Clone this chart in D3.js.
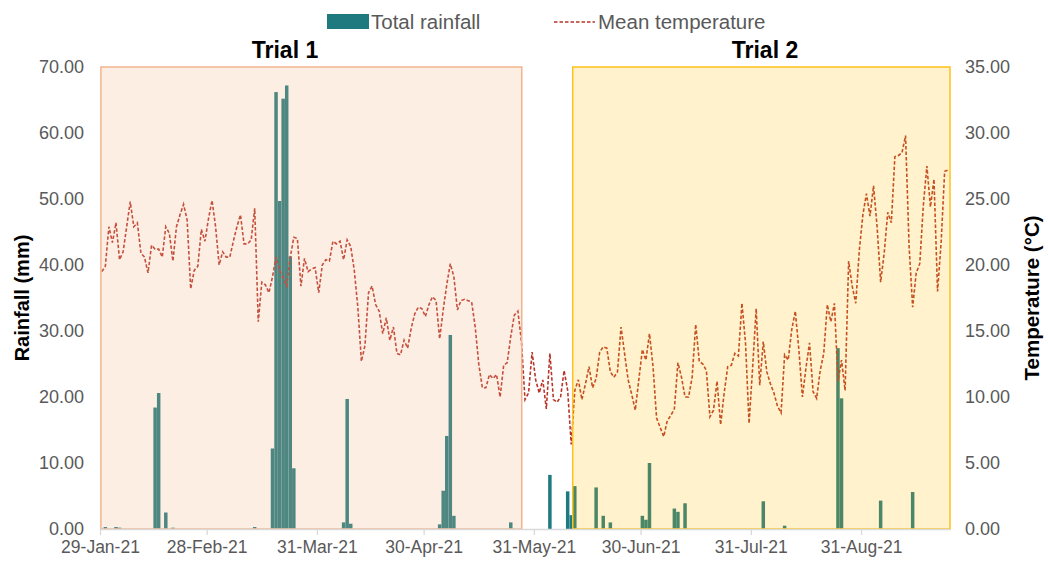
<!DOCTYPE html>
<html>
<head>
<meta charset="utf-8">
<script src="https://cdn.jsdelivr.net/npm/d3@7"></script>
<style>
  body { margin: 0; background: #fff; }
  svg { display: block; font-family: "Liberation Sans", Arial, sans-serif; }
</style>
</head>
<body>
<svg id="chart" width="1048" height="564"></svg>
<script>
// ---- data ---------------------------------------------------------------
const firstDay = "2021-01-29";          // first daily record
const axisEnd = "2021-09-25";           // end of the date axis

// daily mean temperature (°C), one value per day from firstDay
const meanTemp = [
  19.5, 19.9, 22.9, 21.7, 23.2, 20.4, 21.0, 22.9, 24.8, 22.9,
  23.2, 20.9, 20.6, 19.4, 21.5, 21.2, 21.2, 20.6, 22.9, 22.4,
  20.3, 22.9, 23.8, 24.6, 23.4, 18.2, 19.6, 19.9, 22.7, 21.8,
  23.5, 24.9, 22.9, 20.0, 21.0, 20.6, 20.6, 21.8, 22.9, 23.8,
  21.6, 21.6, 21.9, 24.3, 15.7, 18.7, 18.5, 17.9, 19.1, 20.6,
  19.6, 19.0, 18.4, 20.6, 22.1, 22.0, 18.4, 20.5, 19.5, 19.7,
  19.8, 17.9, 20.0, 20.4, 20.3, 21.8, 21.6, 21.8, 20.4, 21.9,
  21.4, 19.6, 16.8, 12.7, 13.9, 17.9, 18.4, 17.0, 16.5, 14.8,
  16.0, 14.3, 15.3, 13.3, 13.2, 14.3, 13.7, 15.2, 16.3, 16.8,
  16.7, 16.1, 17.0, 17.6, 17.3, 14.4, 16.6, 18.5, 20.1, 19.1,
  16.6, 17.3, 17.4, 17.3, 17.2, 15.3, 12.5, 10.7, 10.7, 11.7,
  11.4, 11.7, 10.0, 12.4, 12.6, 14.6, 16.2, 16.5, 14.2, 9.8,
  10.3, 13.4, 11.3, 10.3, 11.3, 9.1, 13.3, 9.8, 9.6, 10.0,
  12.0, 10.5, 6.4, 10.5, 11.3, 9.8, 11.0, 12.3, 10.7, 11.4,
  13.4, 13.8, 13.7, 11.9, 11.5, 11.9, 15.3, 13.3, 11.3, 10.2,
  9.0, 11.3, 13.6, 12.8, 14.8, 12.3, 8.4, 7.7, 7.0, 8.2,
  8.6, 9.1, 12.6, 11.5, 10.0, 10.0, 11.5, 15.5, 12.7, 12.5,
  12.0, 8.5, 9.0, 11.2, 7.9, 10.3, 12.3, 12.4, 13.3, 13.1,
  17.1, 14.1, 8.0, 12.2, 16.7, 10.9, 14.2, 11.9, 11.0, 10.3,
  9.3, 8.8, 13.2, 12.8, 15.1, 16.5, 13.6, 10.0, 12.2, 14.1,
  10.4, 9.9, 12.0, 13.3, 17.0, 15.7, 17.1, 11.2, 12.8, 10.5,
  20.3, 18.4, 17.1, 21.1, 23.8, 25.4, 23.7, 26.0, 22.9, 18.7,
  20.9, 24.0, 23.2, 28.2, 28.3, 28.5, 29.8, 21.4, 16.8, 19.4,
  20.1, 24.5, 27.5, 24.4, 26.5, 18.0, 21.7, 27.1, 27.2
];

// days with recorded rainfall
const rainDates = [
  "2021-01-30", "2021-02-02", "2021-02-03", "2021-02-13", "2021-02-14",
  "2021-02-16", "2021-02-18", "2021-03-13", "2021-03-18", "2021-03-19",
  "2021-03-20", "2021-03-21", "2021-03-22", "2021-03-23", "2021-03-24",
  "2021-04-07", "2021-04-08", "2021-04-09", "2021-05-04", "2021-05-05",
  "2021-05-06", "2021-05-07", "2021-05-08", "2021-05-24", "2021-06-04",
  "2021-06-09", "2021-06-10", "2021-06-11", "2021-06-17", "2021-06-19",
  "2021-06-21", "2021-06-30", "2021-07-01", "2021-07-02", "2021-07-09",
  "2021-07-10", "2021-07-12", "2021-08-03", "2021-08-09", "2021-08-24",
  "2021-08-25", "2021-09-05", "2021-09-14"
];
const rainMm = [
  0.3, 0.3, 0.2, 18.4, 20.6,
  2.5, 0.2, 0.3, 12.2, 66.2,
  49.7, 65.2, 67.2, 41.3, 9.2,
  1.0, 19.7, 0.8, 0.7, 5.8,
  14.1, 29.4, 2.0, 1.0, 8.2,
  5.7, 2.1, 6.5, 6.3, 2.0,
  1.0, 2.0, 1.4, 10.0, 3.1,
  2.6, 3.9, 4.2, 0.5, 27.4,
  19.8, 4.3, 5.6
];

const tickDates = [
  "2021-01-29", "2021-02-28", "2021-03-31", "2021-04-30",
  "2021-05-31", "2021-06-30", "2021-07-31", "2021-08-31"
];
const rainTicks = [0, 10, 20, 30, 40, 50, 60, 70];
const tempTicks = [0, 5, 10, 15, 20, 25, 30, 35];

const trialNames = ["Trial 1", "Trial 2"];
const trialStart = ["2021-01-29T06:00", "2021-06-10T22:00"];
const trialEnd = ["2021-05-27T14:00", "2021-09-25T00:00"];

const seriesNames = ["Total rainfall", "Mean temperature"];

// ---- layout & style -----------------------------------------------------
const plot = { left: 100, right: 950, top: 67, bottom: 529 };
const rainColor = "#1f7a80";
const tempColor = "#b8352a";
const trialFill = ["#f4b183", "#ffc000"];
const trialFillOpacity = [0.22, 0.2];
const trialStroke = ["#f2b48e", "#ffc21a"];
const textColor = "#595959";

const parseDay = d3.utcParse("%Y-%m-%d");
const parseTime = d3.utcParse("%Y-%m-%dT%H:%M");
const start = parseDay(firstDay);
const tempDays = meanTemp.map((v, i) => ({ date: d3.utcDay.offset(start, i), value: v }));
const rain = rainDates.map((d, i) => ({ date: parseDay(d), value: rainMm[i] }));

const svg = d3.select("#chart");

const x = d3.scaleUtc()
  .domain([start, parseDay(axisEnd)])
  .range([plot.left, plot.right]);
const dayW = x(d3.utcDay.offset(start, 1)) - x(start);
const mid = d => x(d) + dayW / 2;

const yRain = d3.scaleLinear().domain([0, 70]).range([plot.bottom, plot.top]);
const yTemp = d3.scaleLinear().domain([0, 35]).range([plot.bottom, plot.top]);

// ---- rainfall columns -----------------------------------------------------
const barW = dayW * 0.98;
svg.append("g")
  .selectAll("rect")
  .data(rain)
  .join("rect")
  .attr("x", d => mid(d.date) - barW / 2)
  .attr("width", barW)
  .attr("y", d => yRain(d.value))
  .attr("height", d => yRain(0) - yRain(d.value))
  .attr("fill", rainColor);

// ---- temperature line ---------------------------------------------------
svg.append("path")
  .datum(tempDays)
  .attr("fill", "none")
  .attr("stroke", tempColor)
  .attr("stroke-width", 1.6)
  .attr("stroke-dasharray", "3.5,2")
  .attr("d", d3.line().x(d => mid(d.date)).y(d => yTemp(d.value)));

// ---- trial periods (translucent panels) ------------------------------------
const trials = trialNames.map((n, i) => ({
  name: n, s: parseTime(trialStart[i]), e: parseTime(trialEnd[i]), i
}));
svg.append("g")
  .selectAll("rect")
  .data(trials)
  .join("rect")
  .attr("x", d => x(d.s))
  .attr("width", d => x(d.e) - x(d.s))
  .attr("y", yRain(70))
  .attr("height", yRain(0) - yRain(70))
  .attr("fill", d => trialFill[d.i])
  .attr("fill-opacity", d => trialFillOpacity[d.i])
  .attr("stroke", d => trialStroke[d.i])
  .attr("stroke-width", 1.5);

// trial headings
const headingX = [285, 765];
svg.append("g")
  .selectAll("text")
  .data(trials)
  .join("text")
  .attr("x", d => headingX[d.i])
  .attr("y", 58)
  .attr("text-anchor", "middle")
  .attr("font-size", 23)
  .attr("font-weight", "bold")
  .attr("fill", "#000")
  .text(d => d.name);

// ---- axes ----------------------------------------------------------------
const fmtDate = d3.utcFormat("%-d-%b-%y");
const xAxis = svg.append("g")
  .attr("transform", `translate(0,${plot.bottom})`)
  .call(d3.axisBottom(x)
    .tickValues(tickDates.map(parseDay))
    .tickFormat(fmtDate)
    .tickSize(6)
    .tickSizeOuter(0)
    .tickPadding(6));
xAxis.select(".domain").attr("stroke", "#d9d9d9").attr("stroke-width", 1.3);
xAxis.selectAll(".tick line").attr("stroke", "#d9d9d9").attr("stroke-width", 1.3);
xAxis.selectAll(".tick text")
  .attr("font-size", 17.5)
  .attr("fill", textColor)
  .attr("font-family", "Liberation Sans, Arial, sans-serif");

const fmtNum = d3.format(".2f");
const yAxisL = svg.append("g")
  .attr("transform", `translate(${plot.left},0)`)
  .call(d3.axisLeft(yRain).tickValues(rainTicks).tickFormat(fmtNum).tickSize(0).tickPadding(16));
yAxisL.select(".domain").remove();
yAxisL.selectAll(".tick text")
  .attr("font-size", 18)
  .attr("fill", textColor)
  .attr("font-family", "Liberation Sans, Arial, sans-serif");

const yAxisR = svg.append("g")
  .attr("transform", `translate(${plot.right},0)`)
  .call(d3.axisRight(yTemp).tickValues(tempTicks).tickFormat(fmtNum).tickSize(0).tickPadding(15));
yAxisR.select(".domain").remove();
yAxisR.selectAll(".tick text")
  .attr("font-size", 18)
  .attr("fill", textColor)
  .attr("font-family", "Liberation Sans, Arial, sans-serif");

// axis titles
const midY = (plot.top + plot.bottom) / 2;
svg.append("text")
  .attr("transform", `translate(29,${midY}) rotate(-90)`)
  .attr("text-anchor", "middle")
  .attr("font-size", 20)
  .attr("font-weight", "bold")
  .attr("fill", "#000")
  .text("Rainfall (mm)");
svg.append("text")
  .attr("transform", `translate(1039,${midY}) rotate(-90)`)
  .attr("text-anchor", "middle")
  .attr("font-size", 20.5)
  .attr("font-weight", "bold")
  .attr("fill", "#000")
  .text("Temperature (°C)");

// ---- legend --------------------------------------------------------------
const legend = svg.append("g").attr("font-size", 20.5).attr("fill", textColor);
legend.append("rect")
  .attr("x", 327).attr("y", 14).attr("width", 42).attr("height", 15)
  .attr("fill", rainColor);
legend.append("text").attr("x", 371).attr("y", 29).text(seriesNames[0]);
legend.append("line")
  .attr("x1", 554).attr("x2", 595).attr("y1", 22).attr("y2", 22)
  .attr("stroke", tempColor).attr("stroke-width", 1.6)
  .attr("stroke-dasharray", "3.5,2");
legend.append("text").attr("x", 598).attr("y", 29).text(seriesNames[1]);
</script>
</body>
</html>
